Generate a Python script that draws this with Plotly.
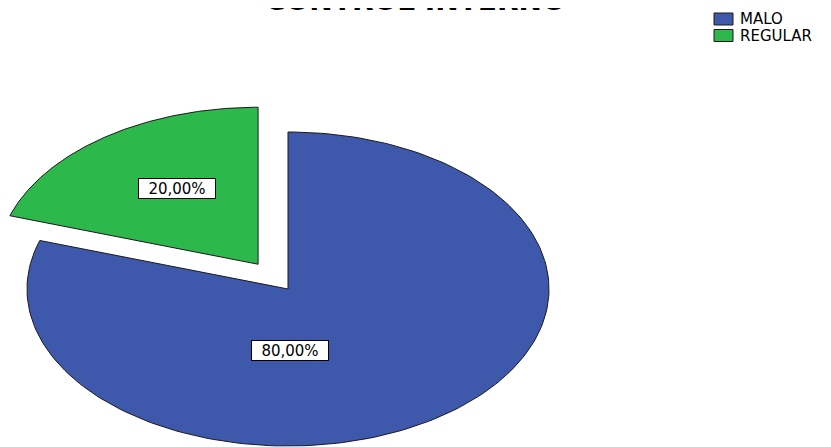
import numpy as np
import plotly.graph_objects as go

# ---- data ----
categories = ["MALO", "REGULAR"]
values = [80.0, 20.0]
label_texts = ["80,00%", "20,00%"]
title_text = "CONTROL INTERNO"

# ---- style ----
colors = ["#3E58AC", "#2DB84B"]
explode = [0.0, 0.195]
# label position in unit-ellipse coordinates relative to the slice apex
label_pos = [(0.008, -0.39), (-0.31, 0.48)]

W, H = 831, 447
OFF = 8  # page body margin; axis ranges shifted so data units = page pixels
cx, cy, rx, ry = 288.0, 289.0, 261.0, 157.0

fig = go.Figure()

total = sum(values)
start = 90.0
for i, (cat, v) in enumerate(zip(categories, values)):
    span = v / total * 360.0
    end = start - span
    mid = np.deg2rad((start + end) / 2)
    ox = explode[i] * rx * np.cos(mid)
    oy = -explode[i] * ry * np.sin(mid)
    t = np.deg2rad(np.linspace(start, end, 200))
    xs = np.concatenate([[cx + ox], cx + ox + rx * np.cos(t), [cx + ox]])
    ys = np.concatenate([[cy + oy], cy + oy - ry * np.sin(t), [cy + oy]])
    fig.add_trace(go.Scatter(
        x=xs, y=ys, mode="lines", fill="toself", fillcolor=colors[i],
        line=dict(color="#1a1a1a", width=1), name=cat, showlegend=False,
        hoverinfo="skip"))
    lx = cx + ox + label_pos[i][0] * rx
    ly = cy + oy - label_pos[i][1] * ry
    fig.add_annotation(
        x=lx, y=ly, xref="x", yref="y", text=label_texts[i], showarrow=False,
        font=dict(family="DejaVu Sans", size=15, color="black"),
        bgcolor="white", bordercolor="black", borderwidth=1, borderpad=1,
        width=74, height=17)
    start = end

# legend (custom)
lg_x0, lg_y0, sw_w, sw_h, lg_step = 714, 13, 19, 12, 16.5
for i, cat in enumerate(categories):
    y0 = lg_y0 + i * lg_step
    fig.add_shape(type="rect", xref="x", yref="y",
                  x0=lg_x0, x1=lg_x0 + sw_w, y0=y0, y1=y0 + sw_h,
                  fillcolor=colors[i], line=dict(color="#1a1a1a", width=1))
    fig.add_annotation(x=lg_x0 + sw_w + 5, y=y0 + sw_h / 2, xref="x", yref="y",
                       text=cat, showarrow=False, xanchor="left", yanchor="middle",
                       font=dict(family="DejaVu Sans", size=15, color="black"))

# title (partly cut off at the top, as in the reference)
fig.add_annotation(x=415, y=19, xref="x", yref="y", text=f"<b>{title_text}</b>",
                   showarrow=False, xanchor="center", yanchor="bottom",
                   font=dict(family="DejaVu Sans", size=28, color="black"))

fig.update_layout(
    width=W, height=H, margin=dict(l=0, r=0, t=0, b=0),
    paper_bgcolor="white", plot_bgcolor="white",
    xaxis=dict(range=[OFF, OFF + W], visible=False, fixedrange=True),
    yaxis=dict(range=[OFF + H, OFF], visible=False, fixedrange=True),
    showlegend=False,
)

fig.write_html("out.html")
